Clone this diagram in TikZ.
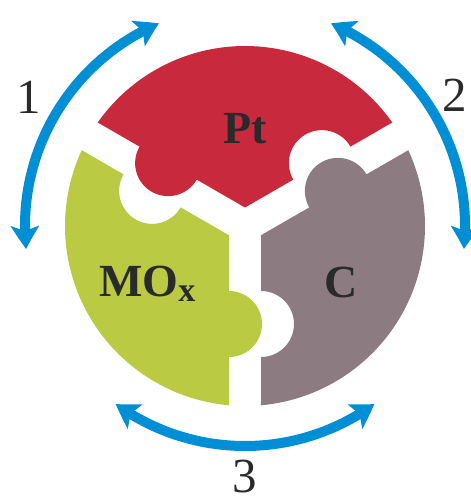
\documentclass[tikz,border=0pt]{standalone}
\usepackage{fontspec}
\setmainfont{Liberation Serif}
\usetikzlibrary{arrows.meta,bending}
\definecolor{ptred}{RGB}{200,41,60}
\definecolor{moxgreen}{RGB}{186,202,66}
\definecolor{cgray}{RGB}{140,123,128}
\definecolor{arrowblue}{RGB}{0,143,213}
\definecolor{txt}{RGB}{42,42,42}
\tikzset{
  cyclearrow/.style={draw=arrowblue, line width=10pt,
    {Stealth[length=23pt,width=28pt,inset=5pt,bend]}-{Stealth[length=23pt,width=28pt,inset=5pt,bend]}},
  piecelabel/.style={inner sep=0pt, text=txt, font=\fontsize{46}{46}\selectfont\bfseries},
  numlabel/.style={inner sep=0pt, text=txt, font=\fontsize{49}{49}\selectfont}
}
\begin{document}
\begin{tikzpicture}[x=1pt,y=1pt]
\useasboundingbox (-245,-272) rectangle (226,226);
% puzzle pieces (same shape rotated)
\foreach \ang/\col in {0/ptred,120/moxgreen,240/cgray}{
  \fill[\col, rotate=\ang] (0,18.48) -- (48.29,46.36)
     arc[start angle=210,end angle=30,radius=33]
     -- (35.1:180) arc[start angle=35.1,end angle=144.9,radius=180]
     -- (-105.45,79.36) arc[start angle=150,end angle=330,radius=33]
     -- cycle;
}
% labels
\node[piecelabel, anchor=base] (pt) at (0,83) {Pt};
\node[piecelabel, anchor=base west] (mox) at (-146,-70) {MO\raisebox{-5pt}{\fontsize{34}{34}\selectfont x}};
\node[piecelabel, anchor=base] (c) at (96,-71) {C};
% arrows
\draw[cyclearrow] (186:220) arc[start angle=186,end angle=113,radius=220];
\draw[cyclearrow] (67:220) arc[start angle=67,end angle=-6,radius=220];
\draw[cyclearrow] (234:220) arc[start angle=234,end angle=306,radius=220];
\node[numlabel, anchor=base] (n1) at (-216,113) {1};
\node[numlabel, anchor=base] (n2) at (210,114) {2};
\node[numlabel, anchor=base] (n3) at (0,-266) {3};
\end{tikzpicture}
\end{document}
